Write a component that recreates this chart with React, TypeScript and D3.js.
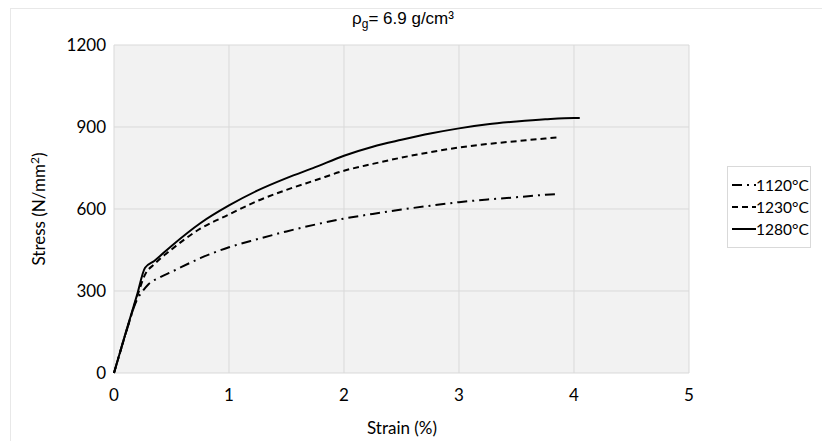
import React from "react";
import * as d3 from "d3";

const xTicks = [0, 1, 2, 3, 4, 5];
const yTicks = [0, 300, 600, 900, 1200];

const strain1280 = [0, 0.1, 0.2, 0.27, 0.35, 0.5, 0.75, 1.0, 1.25, 1.5, 1.75, 2.0, 2.25, 2.5, 2.75, 3.0, 3.25, 3.5, 3.75, 4.0, 4.05];
const stress1280 = [0, 145, 285, 385, 410, 465, 548, 613, 668, 713, 753, 795, 828, 853, 876, 895, 910, 920, 928, 933, 933];

const strain1230 = [0, 0.1, 0.2, 0.27, 0.35, 0.5, 0.75, 1.0, 1.25, 1.5, 1.75, 2.0, 2.25, 2.5, 2.75, 3.0, 3.25, 3.5, 3.75, 3.87];
const stress1230 = [0, 142, 278, 360, 398, 452, 528, 580, 630, 670, 705, 740, 765, 788, 808, 825, 838, 848, 858, 862];

const strain1120 = [0, 0.1, 0.2, 0.25, 0.3, 0.4, 0.5, 0.75, 1.0, 1.25, 1.5, 1.75, 2.0, 2.25, 2.5, 2.75, 3.0, 3.25, 3.5, 3.75, 3.87];
const stress1120 = [0, 142, 268, 300, 325, 350, 370, 420, 460, 490, 518, 543, 565, 582, 598, 612, 625, 635, 643, 652, 655];

const seriesNames = ["1120°C", "1230°C", "1280°C"];
const dashes = ["10,5,2,5", "6,4", ""];

const W = 822, H = 441;
const left = 114, right = 689, top = 45, bottom = 373;

export default function App() {
  const x = d3.scaleLinear().domain([0, 5]).range([left, right]);
  const y = d3.scaleLinear().domain([0, 1200]).range([bottom, top]);
  const line = d3.line<[number, number]>().x(d => x(d[0])).y(d => y(d[1])).curve(d3.curveMonotoneX);
  const series = [
    strain1120.map((s, i) => [s, stress1120[i]] as [number, number]),
    strain1230.map((s, i) => [s, stress1230[i]] as [number, number]),
    strain1280.map((s, i) => [s, stress1280[i]] as [number, number]),
  ];
  const font = "Lato, 'Open Sans', sans-serif";
  const legX = 727, legY = 166;
  return (
    <svg width={W} height={H} style={{ position: "absolute", left: 0, top: 0, background: "#fff" }}>
      <rect x={10.5} y={8.5} width={W} height={H} fill="none" stroke="#e8e8e8" />
      <rect x={left} y={top} width={right - left} height={bottom - top} fill="#f2f2f2" />
      {xTicks.map(t => (
        <line key={"gx" + t} x1={x(t)} x2={x(t)} y1={top} y2={bottom} stroke="#d9d9d9" strokeWidth={1} />
      ))}
      {yTicks.map(t => (
        <line key={"gy" + t} x1={left} x2={right} y1={y(t)} y2={y(t)} stroke="#d9d9d9" strokeWidth={1} />
      ))}
      {xTicks.map(t => (
        <text key={"tx" + t} x={x(t)} y={bottom + 28} textAnchor="middle" fontFamily={font} fontSize={17} fill="#000">{t}</text>
      ))}
      {yTicks.map(t => (
        <text key={"ty" + t} x={left - 8} y={y(t) + 6} textAnchor="end" fontFamily={font} fontSize={17} fill="#000">{t}</text>
      ))}
      {series.map((d, i) => (
        <path key={"s" + i} d={line(d) || ""} fill="none" stroke="#000" strokeWidth={2} strokeDasharray={dashes[i]} />
      ))}
      <text x={403} y={24} textAnchor="middle" fontFamily="'Liberation Sans', Arial, sans-serif" fontSize={17} fill="#000">
        ρ<tspan fontSize={12} dy={4}>g</tspan><tspan dy={-4}>= 6.9 g/cm³</tspan>
      </text>
      <text x={402} y={434} textAnchor="middle" fontFamily={font} fontSize={17} fill="#000">Strain (%)</text>
      <text transform={`translate(45,${(top + bottom) / 2}) rotate(-90)`} textAnchor="middle" fontFamily={font} fontSize={17} fill="#000">
        Stress (N/mm<tspan fontSize={12} dy={-6}>2</tspan><tspan dy={6}>)</tspan>
      </text>
      <rect x={legX + 0.5} y={legY + 0.5} width={83} height={81} fill="#fff" stroke="#d9d9d9" />
      {seriesNames.map((n, i) => (
        <g key={"l" + i}>
          <line x1={legX + 5} x2={legX + 29} y1={legY + 19 + i * 22} y2={legY + 19 + i * 22} stroke="#000" strokeWidth={2} strokeDasharray={dashes[i]} />
          <text x={legX + 29} y={legY + 25 + i * 22} fontFamily={font} fontSize={15.5} fill="#000">{n}</text>
        </g>
      ))}
    </svg>
  );
}
